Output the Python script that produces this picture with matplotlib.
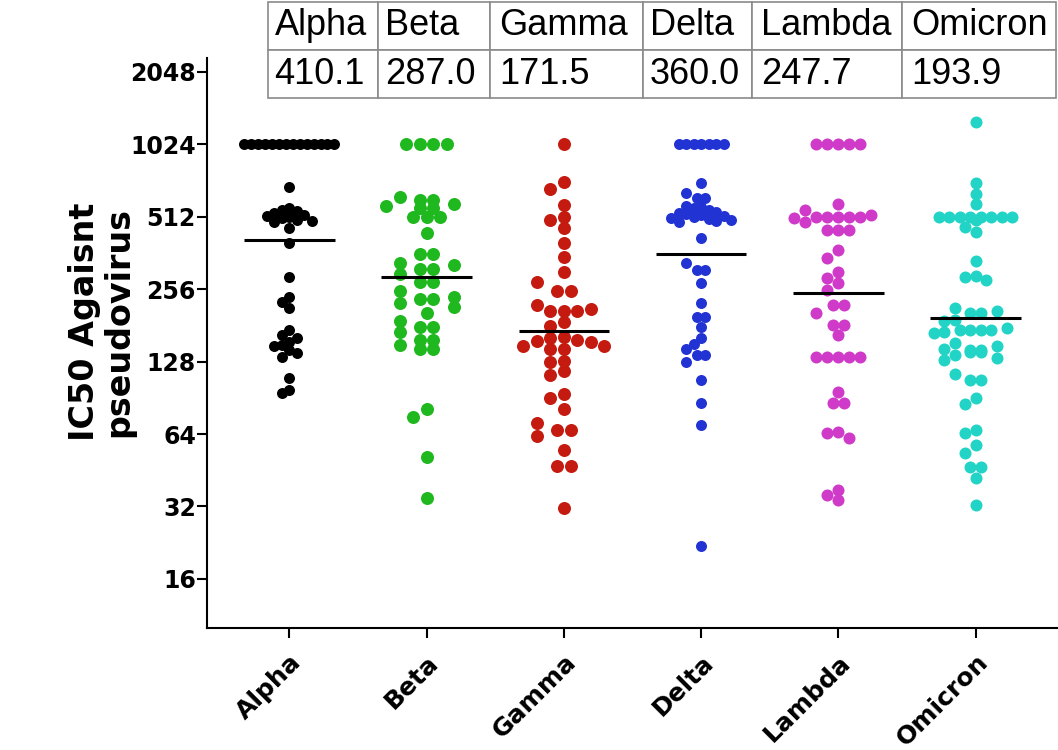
import matplotlib
matplotlib.use("Agg")
import matplotlib.pyplot as plt
import numpy as np

# IC50 against pseudovirus, one column of sera per variant
variants = ["Alpha", "Beta", "Gamma", "Delta", "Lambda", "Omicron"]
colors = ["#000000", "#1fb81f", "#c41a10", "#2233d4", "#cf3ac8", "#22d4c6"]

alpha = [1024, 1024, 1024, 1024, 1024, 1024, 1024, 1024, 1024, 1024, 1024, 1024, 1024, 1024,
         683, 556, 548, 540, 530, 521, 515, 510, 505, 497, 490, 485,
         459, 398, 289, 238, 227, 213,
         173, 165, 160, 155, 150, 148, 143, 139, 134,
         109, 97.5, 94.5]
beta = [1024, 1024, 1024, 1024, 617, 601, 601, 579, 569, 555, 555, 509, 509, 509,
        437, 359, 359, 330, 323, 310, 310, 295, 275, 275, 252, 238, 233, 233,
        224, 216, 203, 189, 178, 178, 170, 158, 158, 150, 144, 144,
        81, 75.5, 51.5, 34.6]
gamma = [1024, 716, 666, 573, 509, 497, 459, 400, 348, 301, 274, 251, 251,
         221, 212, 208, 208, 208, 187, 180, 162, 160, 158, 156, 154, 149, 148,
         145, 144, 129, 128, 117, 113, 94, 90, 81, 71, 66.5, 66.5, 63, 55,
         47, 47, 31.5]
delta = [1024, 1024, 1024, 1024, 1024, 1024, 1024,
         705, 641, 611, 611, 570, 564, 556, 547,
         538, 530, 526, 519, 515, 512, 507, 503, 498, 492, 487,
         419, 328, 308, 308, 272, 224, 197, 197, 179, 160, 152, 144,
         136, 136, 128, 107, 86, 70, 22]
lambda_ = [1024, 1024, 1024, 1024, 1024,
           579, 546, 521, 512, 512, 512, 512, 512, 505, 488,
           451, 451, 451, 372, 344, 303, 284, 271, 254, 220, 220, 203,
           182, 182, 165, 134, 134, 134, 134, 134, 96, 86, 86,
           65.4, 64.4, 61.4, 37.4, 35.7, 34]
omicron = [1273, 706, 635, 577, 512, 512, 512, 512, 512, 512, 512, 512,
           497, 466, 444, 335, 291, 289, 280,
           213, 207, 203, 203, 191, 188, 176, 173, 173, 173, 173, 170, 168,
           153, 148, 145, 143, 143, 141, 141, 136, 132, 130,
           114, 107, 107, 90.6, 85, 66.5, 64.8, 57.6, 53.5, 46.8, 46.8, 42.1, 32.4]
groups = [alpha, beta, gamma, delta, lambda_, omicron]

# geometric mean titres (shown in the table and as the bars)
gmt = [410.1, 287.0, 171.5, 360.0, 247.7, 193.9]
yticks = [16, 32, 64, 128, 256, 512, 1024, 2048]

# scatter layout, in pixels
col_step = [7.5, 13.5, 13.5, 7.5, 11.0, 10.5]
dot_px = [11.0, 13.0, 13.0, 11.0, 12.0, 12.0]
MAX_HALF = 45.0

W, H = 1058, 750
plt.rcParams["font.family"] = "DejaVu Sans"
fig = plt.figure(figsize=(W / 100, H / 100), dpi=100)
ax = fig.add_axes([207 / W, 1 - 628 / H, (W - 207) / W, 570 / H])

ax.set_yscale("log", base=2)
ax.set_xlim(-0.6, 5.6)
ax.set_ylim(10, 2340)


def swarm(vals, y_px, step, dot):
    """Horizontal pixel offsets that keep dots in a column from piling up."""
    n = len(vals)
    xs = np.zeros(n)
    done = np.zeros(n, bool)
    placed = []
    # identical values go in a centred row
    uniq, counts = np.unique(vals, return_counts=True)
    for v, c in zip(uniq, counts):
        if c < 2:
            continue
        idx = np.where(vals == v)[0]
        s = min(step, 2 * MAX_HALF / (c - 1))
        for j, i in enumerate(idx):
            xs[i] = (j - (c - 1) / 2) * s
            placed.append((xs[i], y_px[i]))
            done[i] = True
    kmax = int(MAX_HALF // step)
    ks = [0]
    for k in range(1, kmax + 1):
        ks += [-k, k]
    gap = 0.75 * dot
    for i in np.argsort(-y_px):
        if done[i]:
            continue
        best, best_d = 0.0, -1.0
        for k in ks:
            x = k * step
            hit = [(px, py) for px, py in placed
                   if abs(x - px) < 0.95 * step and abs(y_px[i] - py) < gap]
            if not hit:
                best = x
                break
            d = min(np.hypot(x - px, y_px[i] - py) for px, py in hit)
            if d > best_d:
                best, best_d = x, d
        xs[i] = best
        placed.append((best, y_px[i]))
    return xs


x0 = ax.transData.transform((0, 100))[0]
px_per_unit = ax.transData.transform((1, 100))[0] - x0

for i, (vals, col) in enumerate(zip(groups, colors)):
    vals = np.asarray(vals, float)
    y_px = ax.transData.transform(np.column_stack([np.full(len(vals), i), vals]))[:, 1]
    off = swarm(vals, y_px, col_step[i], dot_px[i])
    size = (dot_px[i] * 72 / 100) ** 2
    ax.scatter(i + off / px_per_unit, vals, s=size, color=col, linewidths=0, zorder=3)
    ax.hlines(gmt[i], i - 0.33, i + 0.33, color="black", lw=2.2, zorder=4)

ax.set_yticks(yticks)
ax.set_yticklabels([str(t) for t in yticks], fontsize=17, fontweight="bold")
ax.yaxis.set_minor_locator(matplotlib.ticker.NullLocator())
ax.set_xticks(range(len(variants)))
ax.set_xticklabels(variants, rotation=45, ha="right", va="top", rotation_mode="anchor",
                   fontsize=18, fontweight="bold")
ax.tick_params(axis="y", length=7, width=1.5, pad=1)
ax.tick_params(axis="x", length=7, width=1.5, pad=9)
for side in ["top", "right"]:
    ax.spines[side].set_visible(False)
for side in ["left", "bottom"]:
    ax.spines[side].set_linewidth(1.5)

fig.text(102 / W, 1 - 322 / H, "IC50 Agaisnt\npseudovirus", rotation=90,
         ha="center", va="center", fontsize=24, fontweight="bold",
         multialignment="center", linespacing=1.05)

# GMT table above the plot
tab_ax = fig.add_axes([268 / W, 1 - 98 / H, (1056 - 268) / W, 96 / H])
tab_ax.axis("off")
tbl = tab_ax.table(cellText=[variants, [f"{v:.1f}" for v in gmt]],
                   colWidths=[110, 112, 153, 109, 150, 154],
                   cellLoc="left", bbox=[0, 0, 1, 1])
tbl.auto_set_font_size(False)
for cell in tbl.get_celld().values():
    cell.set_edgecolor("#8a8a8a")
    cell.set_linewidth(1.2)
    cell.PAD = 0.06
    cell.get_text().set_fontsize(26)
    cell.get_text().set_fontfamily("Liberation Sans")

fig.savefig("out.png", dpi=100)
